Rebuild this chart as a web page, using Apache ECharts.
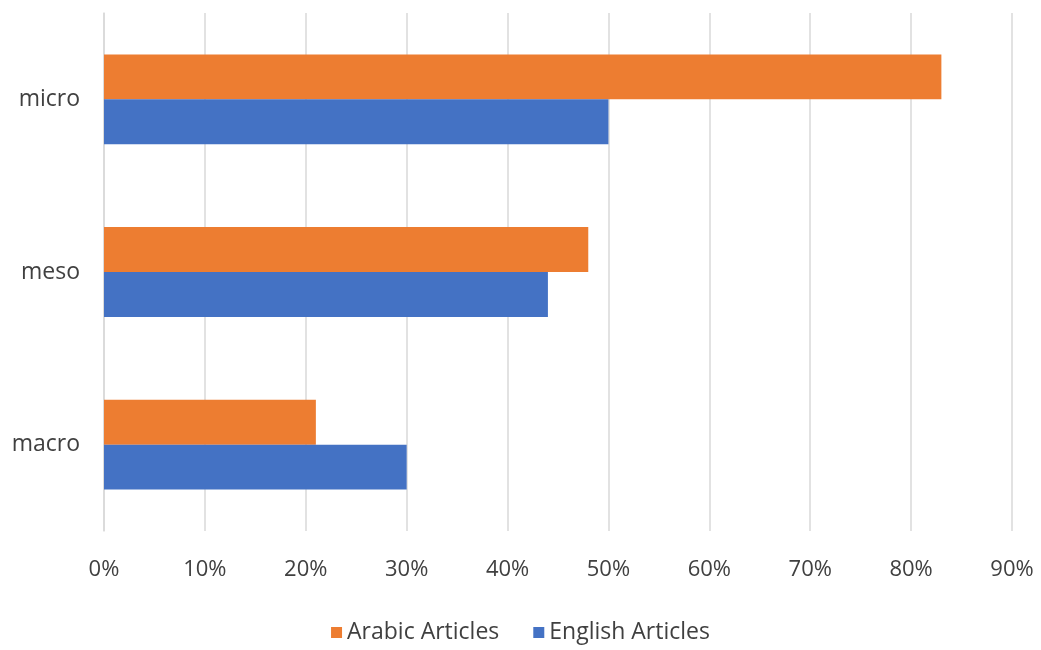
<!DOCTYPE html>
<html>
<head>
<meta charset="utf-8">
<script src="https://cdn.jsdelivr.net/npm/echarts@6/dist/echarts.min.js"></script>
<style>
  html, body { margin: 0; padding: 0; background: #fff; }
  #chart { width: 1041px; height: 650px; }
</style>
</head>
<body>
<div id="chart"></div>
<script>
// categories bottom -> top (ECharts category y axis starts at the bottom)
var levels = ['macro', 'meso', 'micro'];
var englishArticles = [30, 44, 50];
var arabicArticles = [21, 48, 83];
var xTicks = [0, 10, 20, 30, 40, 50, 60, 70, 80, 90];

var myChart = echarts.init(document.getElementById('chart'));
myChart.setOption({
  textStyle: { fontFamily: '"Open Sans", sans-serif' },
  animation: false,
  legend: {
    data: ['Arabic Articles', 'English Articles'],
    bottom: 1,
    left: 'center',
    icon: 'rect',
    itemWidth: 11,
    itemHeight: 11,
    itemGap: 34,
    textStyle: { fontSize: 23, color: '#404040' }
  },
  grid: {
    left: 104,
    right: 29,
    top: 13,
    bottom: 119
  },
  xAxis: {
    type: 'value',
    min: xTicks[0],
    max: xTicks[xTicks.length - 1],
    interval: 10,
    axisLine: { show: false },
    axisTick: { show: false },
    axisLabel: {
      fontSize: 22,
      color: '#404040',
      margin: 28,
      formatter: '{value}%'
    },
    splitLine: { lineStyle: { color: '#d9d9d9', width: 1.5 } }
  },
  yAxis: {
    type: 'category',
    data: levels,
    axisLine: { show: true, lineStyle: { color: '#d9d9d9', width: 1.5 } },
    axisTick: { show: false },
    axisLabel: { fontSize: 23, color: '#404040', margin: 24 }
  },
  series: [
    {
      name: 'Arabic Articles',
      type: 'bar',
      data: arabicArticles,
      barGap: '0%',
      barCategoryGap: '48%',
      itemStyle: { color: '#ED7D31' }
    },
    {
      name: 'English Articles',
      type: 'bar',
      data: englishArticles,
      barGap: '0%',
      barCategoryGap: '48%',
      itemStyle: { color: '#4472C4' }
    }
  ]
});
</script>
</body>
</html>
